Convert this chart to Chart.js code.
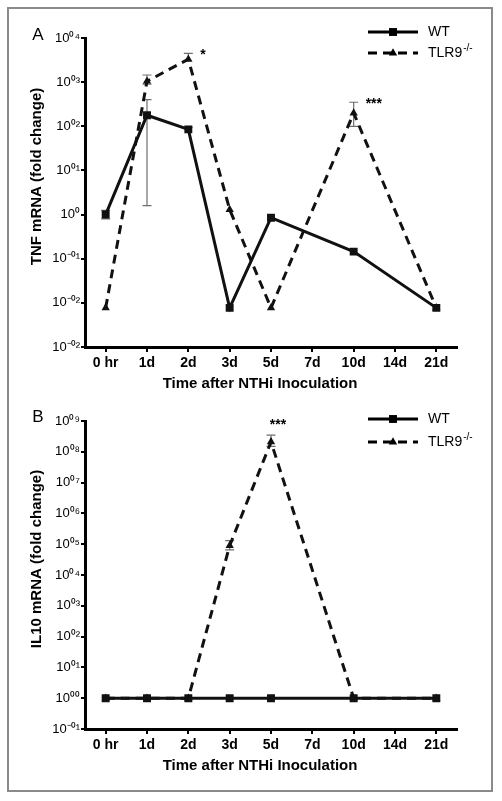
<!DOCTYPE html>
<html>
<head>
<meta charset="utf-8">
<script src="https://cdn.jsdelivr.net/npm/chart.js@4.4.1/dist/chart.umd.min.js"></script>
<style>
  body { margin: 0; background: #fff; }
  #wrap { position: relative; width: 502px; height: 801px; }
  #frame { position: absolute; left: 7px; top: 7px; width: 486px; height: 785px; border: 2px solid #8a8a8a; box-sizing: border-box; }
  canvas { position: absolute; left: 0; }
</style>
</head>
<body>
<div id="wrap">
  <div id="frame"></div>
  <canvas id="chartA" width="502" height="400" style="top:0px"></canvas>
  <canvas id="chartB" width="502" height="401" style="top:400px"></canvas>
</div>
<script>
const dias = ['0 hr', '1d', '2d', '3d', '5d', '7d', '10d', '14d', '21d'];
const nombres = ['WT', 'TLR9-/-'];

// Panel A: TNF
const tnfWT = [1, 178, 85, 0.0077, 0.85, null, 0.145, null, 0.0077];
const tnfWTAlto = [1.25, 400, 95, null, null, null, null, null, null];
const tnfWTBajo = [0.8, 1.6, null, null, null, null, null, null, null];
const tnfKO = [0.0077, 1050, 3300, 1.3, 0.0077, null, 200, null, 0.0077];
const tnfKOAlto = [null, 1450, 4500, null, null, null, 350, null, null];
const tnfKOBajo = [null, 900, null, null, null, null, 100, null, null];
const tnfSig = [null, null, '*', null, null, null, '***', null, null];
const tnfTicks = ['10⁻⁰²', '10⁻⁰²', '10⁻⁰¹', '10⁰', '10⁰¹', '10⁰²', '10⁰³', '10⁰⁴'];

// Panel B: IL10
const il10WT = [1, 1, 1, 1, 1, null, 1, null, 1];
const il10KO = [1, 1, 1, 90000, 210000000, null, 1, null, 1];
const il10KOAlto = [null, null, null, 130000, 350000000, null, null, null, null];
const il10KOBajo = [null, null, null, 65000, 150000000, null, null, null, null];
const il10Sig = [null, null, null, null, '***', null, null, null, null];
const il10Ticks = ['10⁻⁰¹', '10⁰⁰', '10⁰¹', '10⁰²', '10⁰³', '10⁰⁴', '10⁰⁵', '10⁰⁶', '10⁰⁷', '10⁰⁸', '10⁰⁹'];

const fuente = "'Liberation Sans', Arial, Helvetica, sans-serif";

// Barras de error (antes de las lineas)
const barrasError = {
  id: 'barrasError',
  beforeDatasetsDraw(chart) {
    const ctx = chart.ctx;
    const y = chart.scales.y;
    chart.data.datasets.forEach((ds, i) => {
      const meta = chart.getDatasetMeta(i);
      ds.data.forEach((v, j) => {
        if (v == null) return;
        const x = meta.data[j].x;
        const alto = ds.errAlto ? ds.errAlto[j] : null;
        const bajo = ds.errBajo ? ds.errBajo[j] : null;
        ctx.save();
        ctx.strokeStyle = '#6e6e6e';
        ctx.lineWidth = 1.2;
        [alto, bajo].forEach(e => {
          if (e == null) return;
          const py = y.getPixelForValue(e);
          ctx.beginPath();
          ctx.moveTo(x, y.getPixelForValue(v));
          ctx.lineTo(x, py);
          ctx.moveTo(x - 4.5, py);
          ctx.lineTo(x + 4.5, py);
          ctx.stroke();
        });
        ctx.restore();
      });
    });
  }
};

// Titulos, leyenda, letra del panel y asteriscos
const decoraciones = {
  id: 'decoraciones',
  afterDraw(chart, args, opts) {
    const ctx = chart.ctx;
    const area = chart.chartArea;
    ctx.save();
    ctx.fillStyle = '#000';

    // letra del panel
    ctx.font = '17px ' + fuente;
    ctx.textAlign = 'center';
    ctx.textBaseline = 'middle';
    ctx.fillText(opts.letra, 38, opts.letraY);

    // titulo eje y
    ctx.font = 'bold 15px ' + fuente;
    ctx.save();
    ctx.translate(37, (area.top + area.bottom) / 2 - 16);
    ctx.rotate(-Math.PI / 2);
    ctx.fillText(opts.tituloY, 0, 0);
    ctx.restore();

    // titulo eje x
    ctx.fillText(opts.tituloX, (area.left + area.right) / 2 - 11, area.bottom + 37);

    // leyenda
    chart.data.datasets.forEach((ds, i) => {
      const ly = opts.leyendaY[i];
      ctx.save();
      ctx.strokeStyle = '#000';
      ctx.lineWidth = 3;
      ctx.setLineDash(ds.borderDash || []);
      ctx.beginPath();
      ctx.moveTo(368, ly);
      ctx.lineTo(418, ly);
      ctx.stroke();
      ctx.restore();
      ctx.fillStyle = '#000';
      Chart.helpers.drawPoint(ctx, { pointStyle: ds.pointStyle, radius: ds.pointRadius, rotation: 0, borderWidth: 0 }, 393, ly);
      ctx.textAlign = 'left';
      ctx.textBaseline = 'middle';
      ctx.font = '14px ' + fuente;
      const partes = ds.label.split('-/-');
      ctx.fillText(partes[0], 428, ly);
      if (ds.label.includes('-/-')) {
        const w = ctx.measureText(partes[0]).width;
        ctx.font = '10px ' + fuente;
        ctx.fillText('-/-', 428 + w + 1, ly - 5);
      }
    });

    // asteriscos
    const meta = chart.getDatasetMeta(1);
    const ds = chart.data.datasets[1];
    ctx.font = 'bold 14px ' + fuente;
    opts.sig.forEach((s, j) => {
      if (!s) return;
      const x = meta.data[j].x;
      const tope = chart.scales.y.getPixelForValue(ds.errAlto[j] != null ? ds.errAlto[j] : ds.data[j]);
      if (opts.sigLugar === 'derecha') {
        ctx.textAlign = 'left';
        ctx.fillText(s, x + 12, tope + 2);
      } else {
        ctx.textAlign = 'center';
        ctx.fillText(s, x + 7, tope - 10);
      }
    });
    ctx.restore();
  }
};

function crearGrafico(id, wt, ko, koAlto, koBajo, wtAlto, wtBajo, etiquetasY, expMin, expMax, altoEjeX, extra) {
  const exps = [];
  for (let e = expMin; e <= expMax; e++) exps.push(e);
  return new Chart(document.getElementById(id), {
    type: 'line',
    data: {
      labels: dias,
      datasets: [
        {
          label: nombres[0],
          data: wt,
          errAlto: wtAlto,
          errBajo: wtBajo,
          borderColor: '#111',
          backgroundColor: '#111',
          borderWidth: 3,
          pointStyle: 'rect',
          pointRadius: 5.6,
          pointBorderWidth: 0,
          spanGaps: true
        },
        {
          label: nombres[1],
          data: ko,
          errAlto: koAlto,
          errBajo: koBajo,
          borderColor: '#111',
          backgroundColor: '#111',
          borderWidth: 3,
          borderDash: [9, 6],
          pointStyle: 'triangle',
          pointRadius: 4.8,
          pointBorderWidth: 0,
          spanGaps: true
        }
      ]
    },
    options: {
      responsive: false,
      animation: false,
      layout: { padding: { left: 0, right: 45, top: extra.arriba, bottom: 0 } },
      plugins: {
        legend: { display: false },
        tooltip: { enabled: false },
        decoraciones: extra
      },
      scales: {
        x: {
          type: 'category',
          offset: true,
          afterFit: s => { s.height = altoEjeX; },
          grid: { display: true, drawOnChartArea: false, drawTicks: true, tickLength: 5, offset: false, color: '#000', lineWidth: 2 },
          border: { display: true, color: '#000', width: 3 },
          ticks: { color: '#000', padding: 3, maxRotation: 0, autoSkip: false, font: { family: fuente, size: 14, weight: 'bold' } }
        },
        y: {
          type: 'logarithmic',
          min: Math.pow(10, expMin),
          max: Math.pow(10, expMax),
          afterFit: s => { s.width = 85; },
          afterBuildTicks: s => { s.ticks = exps.map(e => ({ value: Math.pow(10, e) })); },
          grid: { display: true, drawOnChartArea: false, drawTicks: true, tickLength: 4, color: '#000', lineWidth: 2 },
          border: { display: true, color: '#000', width: 3 },
          ticks: {
            color: '#000',
            padding: 1,
            autoSkip: false,
            font: { family: fuente, size: 13 },
            callback: v => etiquetasY[Math.round(Math.log10(v)) - expMin]
          }
        }
      }
    },
    plugins: [barrasError, decoraciones]
  });
}

crearGrafico('chartA', tnfWT, tnfKO, tnfKOAlto, tnfKOBajo, tnfWTAlto, tnfWTBajo, tnfTicks, -3, 4, 53, {
  arriba: 38,
  letra: 'A',
  letraY: 35,
  tituloY: 'TNF mRNA (fold change)',
  tituloX: 'Time after NTHi Inoculation',
  leyendaY: [32, 53],
  sig: tnfSig,
  sigLugar: 'derecha'
});

crearGrafico('chartB', il10WT, il10KO, il10KOAlto, il10KOBajo, null, null, il10Ticks, -1, 9, 72, {
  arriba: 21,
  letra: 'B',
  letraY: 17,
  tituloY: 'IL10 mRNA (fold change)',
  tituloX: 'Time after NTHi Inoculation',
  leyendaY: [19, 42],
  sig: il10Sig,
  sigLugar: 'arriba'
});
</script>
</body>
</html>
